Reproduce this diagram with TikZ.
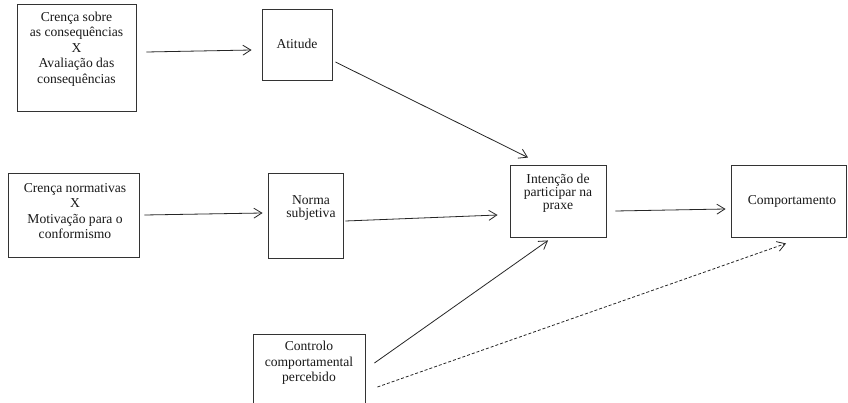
\documentclass[tikz,border=0pt]{standalone}
\usepackage{fontspec}
\setmainfont{Liberation Serif}
\usetikzlibrary{arrows.meta,calc}
\begin{document}
\begin{tikzpicture}[x=1pt,y=-1pt,
  box/.style={draw=black!80, line width=0.9pt, inner sep=0pt},
  lbl/.style={align=center, inner sep=0pt, text=black!90},
  wide/.style={font=\fontsize{13.6}{15.5}\selectfont},
  tight/.style={font=\fontsize{13.6}{13}\selectfont},
  arr/.style={draw=black!85, line width=0.8pt, -{Straight Barb[length=8pt,width=10pt]}}]
\clip (0,0) rectangle (848,403);
\fill[white] (0,0) rectangle (848,403);
% boxes
\node[box, minimum width=119, minimum height=107] (b1) at (76.5,57.5) {};
\node[box, minimum width=70, minimum height=71] (atit) at (297,44.5) {};
\node[box, minimum width=131, minimum height=84] (b2) at (73.5,215) {};
\node[box, minimum width=75, minimum height=85] (norma) at (305.5,215.5) {};
\node[box, minimum width=96, minimum height=72] (int) at (558,201) {};
\node[box, minimum width=115, minimum height=72] (comp) at (788.5,201) {};
\node[box, minimum width=112, minimum height=76] (ctrl) at (309,372) {};
% texts
\node[lbl, wide] (t1) at (76.5,49) {Crença sobre\\as consequências\\X\\Avaliação das\\consequências};
\node[lbl, wide] (tatit) at (297,44) {Atitude};
\node[lbl, wide] (t2) at (75,211) {Crença normativas\\X\\Motivação para o\\conformismo};
\node[lbl, tight] (tnorma) at (311,208) {Norma\\subjetiva};
\node[lbl, tight] (tint) at (558,193) {Intenção de\\participar na\\praxe};
\node[lbl, wide] (tcomp) at (792,201) {Comportamento};
\node[lbl, wide] (tctrl) at (309,363) {Controlo\\comportamental\\percebido};
% connectors
\draw[arr] ($(b1.east)+(10,-5.5)$) -- ($(atit.west)+(-10,5.5)$);
\draw[arr] ($(b2.east)+(5,0)$) -- ($(norma.west)+(-5,-2.5)$);
\draw[arr] ($(atit.east)+(3,17.5)$) -- ($(int.north)+(-30,-7)$);
\draw[arr] ($(norma.east)+(2,5.5)$) -- ($(int.west)+(-12,14)$);
\draw[arr] ($(int.east)+(9,10)$) -- ($(comp.west)+(-5,8)$);
\draw[arr] ($(ctrl.east)+(9,-9)$) -- ($(int.south)+(-10,3)$);
\draw[arr, dash pattern=on 3pt off 2pt] ($(ctrl.east)+(12,15)$) -- ($(comp.south)+(-2.5,6)$);
\end{tikzpicture}
\end{document}
